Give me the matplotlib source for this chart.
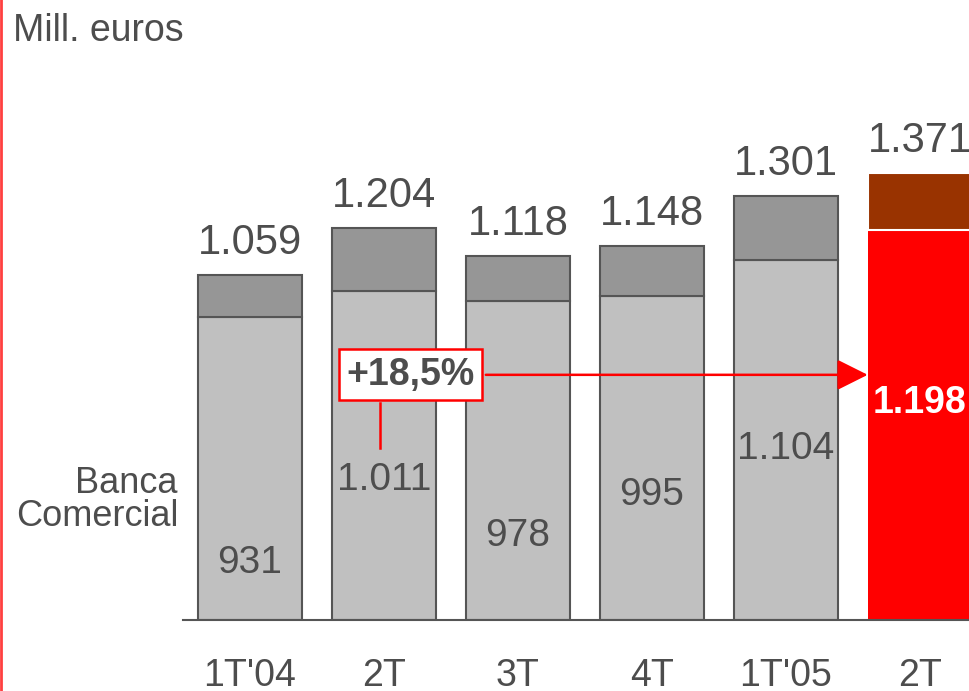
import numpy as np
import matplotlib
matplotlib.use("Agg")
import matplotlib.pyplot as plt
from matplotlib.lines import Line2D

# --- data ---
quarters = ["1T'04", "2T", "3T", "4T", "1T'05", "2T"]
banca_comercial = [931, 1011, 978, 995, 1104, 1198]
total = [1059, 1204, 1118, 1148, 1301, 1371]
total_labels = ["1.059", "1.204", "1.118", "1.148", "1.301", "1.371"]
inner_labels = ["931", "1.011", "978", "995", "1.104", "1.198"]
# height (in data units) where the inner labels sit
inner_label_y = [174, 429, 257, 383, 524, 666]
growth_label = "+18,5%"

plt.rcParams['font.family'] = ['Liberation Sans', 'DejaVu Sans']
txt = "#4d4d4d"
edge = "#555555"

fig = plt.figure(figsize=(9.69, 6.91), dpi=100)
ax = fig.add_axes([183/969, 71.5/691, 786/969, 619.5/691])
ax.set_xlim(-0.5, 5.366)
ax.set_ylim(0, 1904)

x = np.arange(len(quarters))
rest = np.array(total) - np.array(banca_comercial)
w = 0.78

# gray bars for the first five quarters
ax.bar(x[:-1], banca_comercial[:-1], width=w, color="#c0c0c0", edgecolor=edge, linewidth=1.5)
ax.bar(x[:-1], rest[:-1], bottom=banca_comercial[:-1], width=w, color="#969696",
       edgecolor=edge, linewidth=1.5)
# highlighted last quarter
ax.bar(x[-1], banca_comercial[-1], width=w, color="#ff0000", edgecolor="none")
ax.bar(x[-1], rest[-1], bottom=banca_comercial[-1], width=w, color="#993300",
       edgecolor="white", linewidth=1.5)

# total labels above bars
for xi, t, lab in zip(x, total, total_labels):
    ax.annotate(lab, (xi, t), xytext=(0, 23), textcoords="offset points",
                ha="center", va="center", fontsize=30, color=txt, annotation_clip=False)

# labels inside the bars
for i, (xi, yi, lab) in enumerate(zip(x, inner_label_y, inner_labels)):
    if i == len(x) - 1:
        ax.text(xi, yi, lab, ha="center", va="center", fontsize=27, color="white",
                fontweight="bold")
    else:
        ax.text(xi, yi, lab, ha="center", va="center", fontsize=28, color=txt)

# growth annotation
ax.annotate(growth_label, xy=(x[-1] - w/2, 752), xytext=(1.198, 752),
            ha="center", va="center", fontsize=27, fontweight="bold", color=txt,
            bbox=dict(boxstyle="square,pad=0.2", fc="white", ec="#ff0000", lw=1.8),
            arrowprops=dict(arrowstyle="-|>,head_length=0.7,head_width=0.35",
                            color="#ff0000", lw=1.8, shrinkB=0))
ax.plot([0.97, 0.97], [527, 665], color="#ff0000", lw=1.8)

# axes styling
for s in ["top", "right", "left"]:
    ax.spines[s].set_visible(False)
ax.spines["bottom"].set_color(edge)
ax.spines["bottom"].set_linewidth(1.5)
ax.set_yticks([])
ax.set_xticks(x)
ax.set_xticklabels(quarters, fontsize=27, color=txt)
ax.tick_params(axis="x", length=0, pad=28)

fig.text(13/969, 1 - 31/691, "Mill. euros", fontsize=27, color=txt, ha="left", va="center")
fig.text(178/969, 1 - 500/691, "Banca\nComercial", fontsize=26, color=txt,
         ha="right", va="center", linespacing=0.95)

# red line on the left edge
fig.add_artist(Line2D([0.001, 0.001], [0, 1], color="#ff4040", lw=2, transform=fig.transFigure))

fig.savefig("out.png", dpi=100)
